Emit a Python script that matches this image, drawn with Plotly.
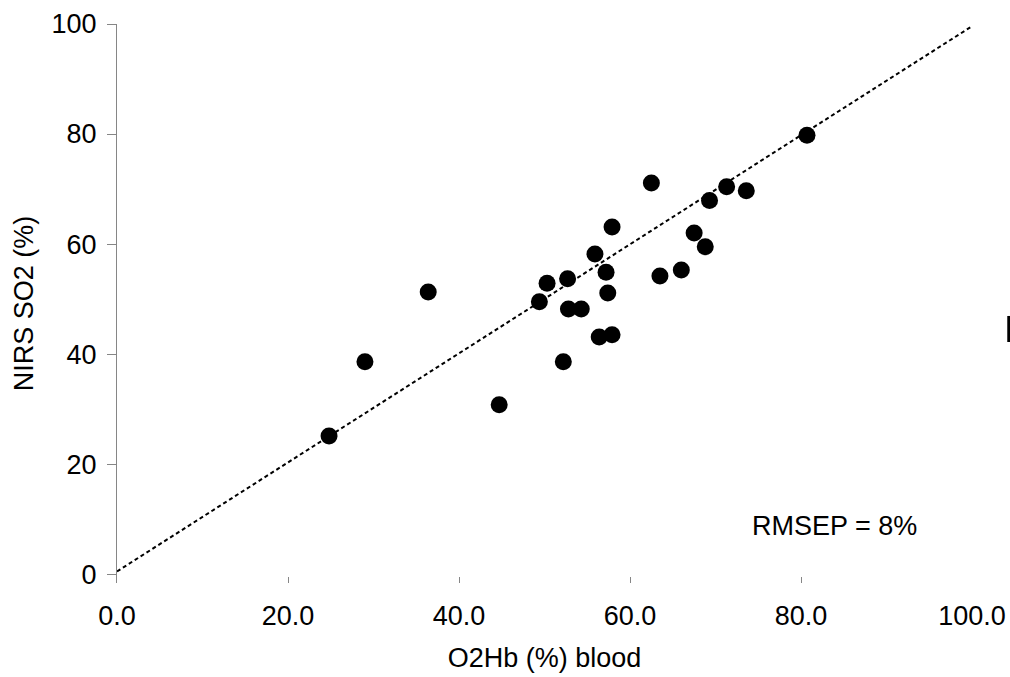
import plotly.graph_objects as go

# Data
o2hb_blood = [24.8, 29.0, 36.4, 44.7, 49.4, 50.3, 52.2, 52.7, 52.8, 54.3, 55.9, 56.4,
              57.2, 57.4, 57.9, 57.9, 62.5, 63.5, 66.0, 67.5, 68.8, 69.3, 71.3, 73.6, 80.7]
nirs_so2 = [25.1, 38.6, 51.3, 30.8, 49.5, 52.9, 38.6, 53.7, 48.2, 48.2, 58.2, 43.1,
            54.9, 51.1, 43.5, 63.1, 71.1, 54.2, 55.3, 62.0, 59.5, 67.9, 70.4, 69.7, 79.8]

# identity (reference) line end points
ref_x = [0, 100]
ref_y = [0.5, 99.6]

x_tickvals = [0, 20, 40, 60, 80, 100]
x_ticktext = ["0.0", "20.0", "40.0", "60.0", "80.0", "100.0"]
y_tickvals = [0, 20, 40, 60, 80, 100]
y_ticktext = ["0", "20", "40", "60", "80", "100"]

FONT = "Liberation Sans, Arial, sans-serif"
AXIS_GRAY = "#868686"

fig = go.Figure()
fig.add_trace(go.Scatter(
    x=ref_x, y=ref_y, mode="lines",
    line=dict(color="black", width=2, dash="4px,3px"),
    hoverinfo="skip", showlegend=False, cliponaxis=False,
))
fig.add_trace(go.Scatter(
    x=o2hb_blood, y=nirs_so2, mode="markers",
    marker=dict(size=17, color="black", line=dict(width=0)),
    showlegend=False, cliponaxis=False,
))

fig.update_layout(
    width=1010, height=677,
    margin=dict(l=117, r=38, t=24, b=94, autoexpand=False),
    paper_bgcolor="white", plot_bgcolor="white",
    font=dict(family=FONT, size=27, color="black"),
    showlegend=False,
    xaxis=dict(
        range=[0, 100], tickvals=x_tickvals, ticktext=x_ticktext,
        showline=False, showgrid=False, zeroline=False, automargin=False,
        ticks="inside", ticklen=6, tickwidth=1, tickcolor=AXIS_GRAY,
        tickfont=dict(size=27, color="black"),
        ticklabelstandoff=14,
        title=dict(text="O2Hb (%) blood", font=dict(size=27), standoff=18),
    ),
    yaxis=dict(
        range=[-1.6, 100], tickvals=y_tickvals, ticktext=y_ticktext,
        showline=True, linecolor=AXIS_GRAY, linewidth=1,
        showgrid=False, zeroline=False, automargin=False,
        ticks="outside", ticklen=9, tickwidth=1, tickcolor=AXIS_GRAY,
        tickfont=dict(size=27, color="black"),
        ticklabelstandoff=5,
        title=dict(text="NIRS SO2 (%)", font=dict(size=27), standoff=10),
    ),
    annotations=[dict(
        text="RMSEP = 8%", x=74.0, y=8.8, xref="x", yref="y",
        xanchor="left", yanchor="middle", showarrow=False,
        font=dict(size=27, color="black"),
    )],
    shapes=[dict(
        type="line", xref="paper", yref="paper",
        x0=1.043, x1=1.043, y0=0.4311, y1=0.4777,
        line=dict(color="black", width=3),
    )],
)

fig.write_html(
    "out.html",
    config={"displayModeBar": False},
    post_script="document.body.style.margin='0';document.body.style.padding='0';document.body.style.overflow='hidden';",
)
